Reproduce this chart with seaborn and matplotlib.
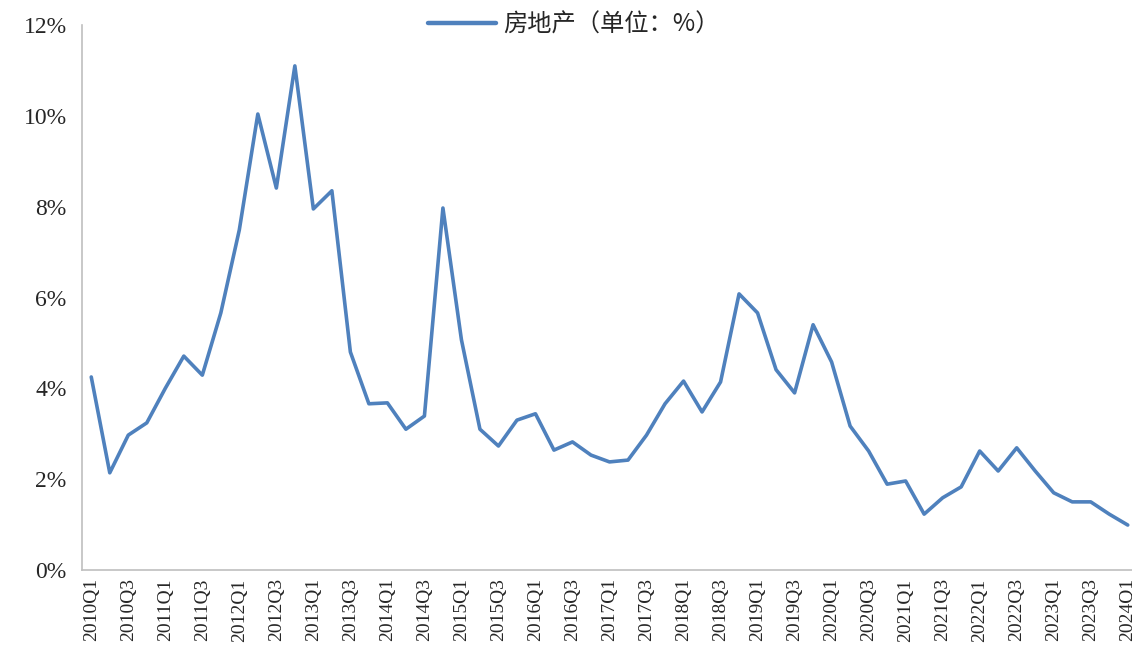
# 房地产 quarterly share line chart, 2010Q1-2024Q1
import numpy as np
import pandas as pd
import matplotlib.pyplot as plt
import seaborn as sns

# DATA
years = list(range(2010, 2025))
quarters = [f"{y}Q{q}" for y in years for q in range(1, 5)][:57]  # up to 2024Q1
values = [4.25, 2.14, 2.97, 3.24, 4.00, 4.71, 4.29, 5.66,
          7.49, 10.04, 8.41, 11.10, 7.95, 8.35, 4.80, 3.66,
          3.68, 3.10, 3.39, 7.97, 5.07, 3.10, 2.73, 3.30,
          3.44, 2.64, 2.82, 2.53, 2.38, 2.42, 2.97, 3.66,
          4.16, 3.48, 4.14, 6.08, 5.66, 4.41, 3.90, 5.40,
          4.58, 3.17, 2.62, 1.89, 1.96, 1.23, 1.59, 1.83,
          2.62, 2.18, 2.69, 2.18, 1.70, 1.50, 1.50, 1.23, 0.99]
series_name = '房地产（单位：%）'
y_ticks = [0, 2, 4, 6, 8, 10, 12]

df = pd.DataFrame({'quarter': quarters, 'value': values, 'series': series_name})
df['pos'] = np.arange(len(df))

# PLOTTING
sns.set_style('white')
plt.rcParams['font.family'] = ['Liberation Serif', 'Noto Sans CJK SC', 'DejaVu Sans']

fig = plt.figure(figsize=(11.32, 6.71), dpi=100)
ax = fig.add_axes([82/1132, 1 - 570/671, (1137 - 82)/1132, (570 - 25)/671])

sns.lineplot(data=df, x='pos', y='value', hue='series', palette=['#4F81BD'],
             linewidth=2.6, ax=ax, legend=True)

ax.set_xlim(-0.5, 56.5)
ax.set_ylim(0, 12)

# x ticks: labels on Q1/Q3, tick marks at category boundaries
label_pos = df['pos'][::2].values
ax.set_xticks(label_pos)
ax.set_xticklabels(df['quarter'][::2], rotation=90, fontsize=14,
                   family='Liberation Serif')
ax.set_xticks(label_pos - 0.5, minor=True)
ax.tick_params(axis='x', which='major', length=0, pad=6)
ax.tick_params(axis='x', which='minor', length=6, color='#BFBFBF', width=1)

ax.set_yticks(y_ticks)
ax.set_yticklabels([f'{t}%' for t in y_ticks], fontsize=17, family='Liberation Serif')
ax.tick_params(axis='y', length=6, color='#BFBFBF', width=1, pad=5)

ax.set_xlabel('')
ax.set_ylabel('')

# Spines: keep left and bottom in light grey
for s in ['top', 'right']:
    ax.spines[s].set_visible(False)
for s in ['left', 'bottom']:
    ax.spines[s].set_color('#BFBFBF')
    ax.spines[s].set_linewidth(1.2)

handles, labels = ax.get_legend_handles_labels()
ax.get_legend().remove()
leg = fig.legend(handles, labels, loc='center', bbox_to_anchor=(574/1132, 1 - 25/671),
                 frameon=False, handlelength=2.8, handletextpad=0.3, borderaxespad=0,
                 prop={'family': ['Noto Sans CJK SC', 'DejaVu Sans'], 'size': 17.5})
for line in leg.get_lines():
    line.set_linewidth(3.2)

fig.savefig('out.png', dpi=100)
